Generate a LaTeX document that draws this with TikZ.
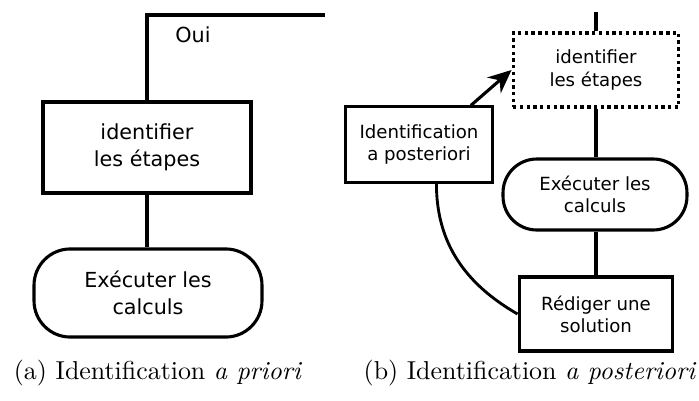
\documentclass[tikz,border=0pt]{standalone}
\usepackage{fontspec}
\newfontfamily\boxfont{DejaVu Sans}
\usetikzlibrary{arrows.meta}

\begin{document}
\begin{tikzpicture}[x=0.386pt, y=-0.386pt, > = {Stealth[length=9pt, width=8pt]},
	etape/.style = {draw, line width=1.2pt, inner sep=0pt, align=center,
	                font=\boxfont\fontsize{8}{10.5}\selectfont},
	petite/.style = {etape, font=\boxfont\fontsize{7}{8.5}\selectfont},
	calcul/.style = {rounded corners=14pt},
	lien/.style = {line width=1.2pt},
	legende/.style = {font=\fontsize{10}{12}\selectfont},
	]
	\useasboundingbox (0,0) rectangle (699,401);

	% (a) identification a priori
	\coordinate (hautA) at (325,15);
	\coordinate (coinA) at (147,15);
	\node[etape, minimum width=80.3pt, minimum height=35.1pt] (idA) at (147,147.5) {identifier\\les étapes};
	\node[etape, calcul, minimum width=88pt, minimum height=34pt] (exA) at (148,293) {Exécuter les\\calculs};
	\node[font=\boxfont\fontsize{8}{10}\selectfont] (oui) at (193,35) {Oui};

	\draw[lien] (hautA) -- (coinA) -- (idA.north);
	\draw[lien] (idA.south) -- (exA.north -| idA.south);

	% (b) identification a posteriori
	\coordinate (hautB) at (596,12);
	\node[petite, dash pattern=on 1.3pt off 1.3pt, minimum width=64pt, minimum height=28.6pt] (idB) at (596,70) {identifier\\les étapes};
	\node[petite, calcul, minimum width=71pt, minimum height=27.4pt, rounded corners=13pt] (exB) at (595,194.5) {Exécuter les\\calculs};
	\node[petite, minimum width=59.4pt, minimum height=28.6pt] (redB) at (596,314) {Rédiger une\\solution};
	\node[petite, minimum width=56.4pt, minimum height=29pt] (postB) at (419,144.5) {Identification\\a posteriori};

	\draw[lien] (hautB) -- (idB.north);
	\draw[lien] (idB.south) -- (exB.north -| idB.south);
	\draw[lien] (exB.south -| redB.north) -- (redB.north);
	\draw[lien, ->] (postB.37) -- (idB.west);
	\draw[line width=1.1pt] (postB.-66) to[out=-90, in=150] (redB.west);

	% legendes
	\node[legende] (legA) at (158,373) {(a) Identification \textit{a priori}};
	\node[legende] (legB) at (530,373) {(b) Identification \textit{a posteriori}};

\end{tikzpicture}
\end{document}
